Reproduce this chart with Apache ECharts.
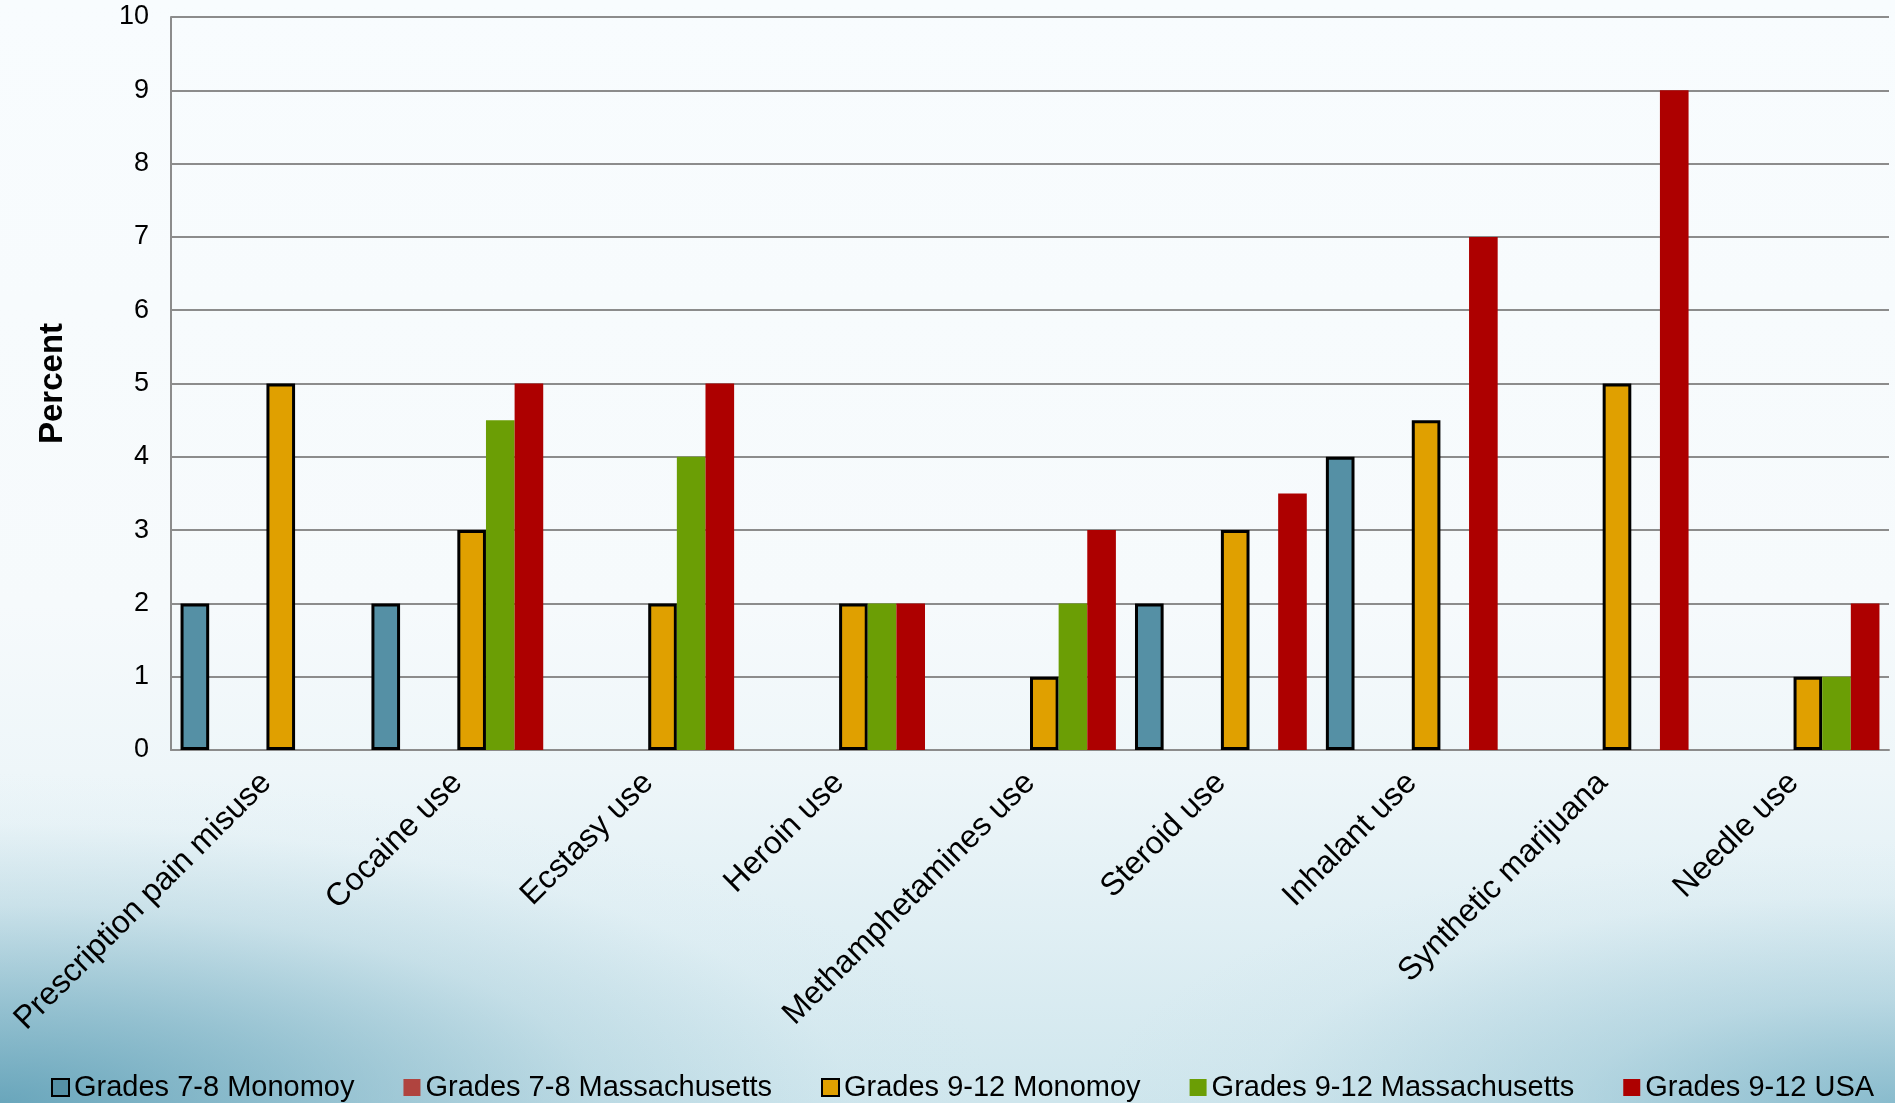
<!DOCTYPE html>
<html>
<head>
<meta charset="utf-8">
<script src="https://cdn.jsdelivr.net/npm/echarts@6/dist/echarts.min.js"></script>
<style>
html,body{margin:0;padding:0;width:1895px;height:1103px;overflow:hidden;}
body{
  background:
    radial-gradient(ellipse 1000px 330px at 0px 1103px, rgba(80,150,175,0.8) 0%, rgba(95,160,183,0.55) 30%, rgba(130,182,200,0.25) 60%, rgba(200,225,235,0.08) 85%, rgba(255,255,255,0) 100%),
    radial-gradient(ellipse 800px 260px at 1895px 1103px, rgba(100,165,188,0.65) 0%, rgba(125,180,200,0.35) 40%, rgba(180,212,224,0.1) 80%, rgba(255,255,255,0) 100%),
    linear-gradient(to bottom, #f8fcfe 0%, #f6fafc 55%, #eef6f9 70%, #e0eff4 84%, #cfe6ed 100%);
}
#chart{width:1895px;height:1103px;}
</style>
</head>
<body>
<div id="chart"></div>
<script>
const categories = ['Prescription pain misuse','Cocaine use','Ecstasy use','Heroin use','Methamphetamines use','Steroid use','Inhalant use','Synthetic marijuana','Needle use'];
const seriesNames = ['Grades 7-8 Monomoy','Grades 7-8 Massachusetts','Grades 9-12 Monomoy','Grades 9-12 Massachusetts','Grades 9-12 USA'];
const g78Monomoy = [2, 2, '-', '-', '-', 2, 4, '-', '-'];
const g78Mass    = ['-', '-', '-', '-', '-', '-', '-', '-', '-'];
const g912Monomoy= [5, 3, 2, 2, 1, 3, 4.5, 5, 1];
const g912Mass   = ['-', 4.5, 4, 2, 2, '-', '-', '-', 1];
const g912USA    = ['-', 5, 5, 2, 3, 3.5, 7, 9, 2];
const emptySlot  = ['-', '-', '-', '-', '-', '-', '-', '-', '-'];
const yTicks = [0,1,2,3,4,5,6,7,8,9,10];

const font = '"Liberation Sans", Arial, sans-serif';
const chart = echarts.init(document.getElementById('chart'));
function bar(name, data, color, border){
  return {
    name: name, type: 'bar', data: data,
    barGap: '0%', barCategoryGap: '10%',
    itemStyle: border ? {color: color, borderColor: '#000', borderWidth: 3} : {color: color},
    emphasis: {disabled: true}
  };
}
chart.setOption({
  backgroundColor: 'transparent',
  animation: false,
  textStyle: {fontFamily: font},
  grid: {left: 171, right: 6, top: 17, bottom: 353},
  legend: {
    data: seriesNames,
    left: 46, top: 1068,
    itemWidth: 17, itemHeight: 17, itemGap: 49,
    icon: 'rect',
    textStyle: {fontSize: 29, color: '#000', fontFamily: font}
  },
  xAxis: {
    type: 'category', data: categories,
    axisLine: {lineStyle: {color: '#8c8c8c', width: 2}},
    axisTick: {show: false},
    axisLabel: {interval: 0, rotate: 45, fontSize: 32, color: '#000', margin: 28, fontFamily: font}
  },
  yAxis: {
    type: 'value', min: yTicks[0], max: yTicks[yTicks.length-1], interval: 1,
    name: 'Percent', nameLocation: 'middle', nameRotate: 90, nameGap: 102,
    nameTextStyle: {fontSize: 33, fontWeight: 'bold', color: '#000', fontFamily: font},
    axisLine: {show: true, lineStyle: {color: '#8c8c8c', width: 2}},
    axisTick: {show: false},
    axisLabel: {fontSize: 27, color: '#000', margin: 22, fontFamily: font},
    splitLine: {lineStyle: {color: '#8c8c8c', width: 2}}
  },
  series: [
    bar(seriesNames[0], g78Monomoy, '#5590a5', true),
    bar(seriesNames[1], g78Mass, '#b0443f', false),
    bar('', emptySlot, 'transparent', false),
    bar(seriesNames[2], g912Monomoy, '#e0a000', true),
    bar(seriesNames[3], g912Mass, '#6b9e05', false),
    bar(seriesNames[4], g912USA, '#ad0000', false)
  ]
});
</script>
</body>
</html>
